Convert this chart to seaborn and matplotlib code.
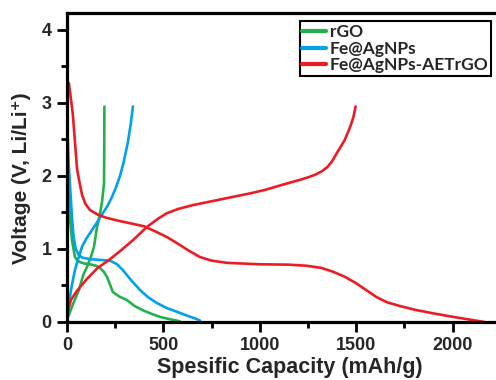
import numpy as np
import pandas as pd
import matplotlib
matplotlib.use("Agg")
import matplotlib.pyplot as plt
import seaborn as sns
from matplotlib.ticker import MultipleLocator
from matplotlib.lines import Line2D

series_names = ["rGO", "Fe@AgNPs", "Fe@AgNPs-AETrGO"]
series_colors = ["#22B14C", "#00A2E8", "#ED1C24"]

# rGO
rgo_dis_cap = [0, 5, 10, 16, 26, 41, 55, 67, 90, 120, 150, 171, 190, 207, 222, 238, 270, 311, 350, 394, 440, 482, 530, 585]
rgo_dis_v = [2.9, 2.1, 1.65, 1.40, 1.12, 0.89, 0.84, 0.82, 0.80, 0.79, 0.77, 0.74, 0.69, 0.62, 0.52, 0.41, 0.35, 0.30, 0.22, 0.16, 0.11, 0.07, 0.04, 0.01]
rgo_chg_cap = [0, 10, 35, 62, 85, 103, 125, 140, 155, 170, 181, 192, 193, 194]
rgo_chg_v = [0.05, 0.10, 0.27, 0.44, 0.65, 0.75, 0.90, 1.03, 1.29, 1.47, 1.63, 1.90, 2.3, 2.95]

# Fe@AgNPs
fe_dis_cap = [0, 3, 8, 15, 22, 28, 35, 45, 60, 80, 120, 170, 223, 260, 290, 330, 378, 420, 466, 518, 570, 620, 673, 690]
fe_dis_v = [3.0, 2.6, 2.2, 1.9, 1.6, 1.35, 1.15, 1.0, 0.92, 0.88, 0.86, 0.85, 0.84, 0.79, 0.71, 0.58, 0.44, 0.34, 0.26, 0.19, 0.14, 0.09, 0.04, 0.02]
fe_chg_cap = [0, 10, 25, 41, 60, 78, 100, 130, 155, 181, 208, 233, 255, 275, 295, 315, 330, 342]
fe_chg_v = [0.08, 0.26, 0.5, 0.71, 0.88, 1.03, 1.14, 1.26, 1.36, 1.47, 1.58, 1.71, 1.85, 2.0, 2.2, 2.45, 2.7, 2.95]

# Fe@AgNPs-AETrGO
aet_dis_cap = [10, 30, 52, 62, 78, 95, 120, 160, 200, 260, 330, 400, 466, 520, 570, 630, 689, 750, 829, 1000, 1150, 1243, 1320, 1378, 1440, 1500, 1550, 1606, 1660, 1725, 1800, 1896, 1980, 2072, 2165]
aet_dis_v = [3.27, 2.85, 2.1, 1.95, 1.74, 1.62, 1.53, 1.47, 1.43, 1.39, 1.35, 1.31, 1.23, 1.16, 1.08, 0.98, 0.89, 0.84, 0.81, 0.79, 0.785, 0.77, 0.74, 0.69, 0.62, 0.53, 0.44, 0.34, 0.27, 0.22, 0.17, 0.12, 0.08, 0.04, 0.0]
aet_chg_cap = [3, 10, 20, 50, 100, 155, 181, 223, 275, 342, 414, 470, 518, 580, 653, 800, 948, 1030, 1119, 1200, 1250, 1290, 1320, 1350, 1375, 1399, 1420, 1440, 1456, 1470, 1485, 1497]
aet_chg_v = [0.10, 0.20, 0.30, 0.42, 0.58, 0.73, 0.78, 0.86, 0.97, 1.12, 1.30, 1.41, 1.49, 1.55, 1.60, 1.68, 1.76, 1.81, 1.88, 1.94, 1.98, 2.02, 2.06, 2.12, 2.20, 2.31, 2.40, 2.49, 2.59, 2.68, 2.80, 2.95]

x_ticks = [0, 500, 1000, 1500, 2000]
y_ticks = [0, 1, 2, 3, 4]

frames = []
for name, segs in [
    ("rGO", [("d", rgo_dis_cap, rgo_dis_v), ("c", rgo_chg_cap, rgo_chg_v)]),
    ("Fe@AgNPs", [("d", fe_dis_cap, fe_dis_v), ("c", fe_chg_cap, fe_chg_v)]),
    ("Fe@AgNPs-AETrGO", [("d", aet_dis_cap, aet_dis_v), ("c", aet_chg_cap, aet_chg_v)]),
]:
    for seg, cap, v in segs:
        frames.append(pd.DataFrame({"cap": cap, "v": v, "material": name, "seg": name + seg}))
df = pd.concat(frames, ignore_index=True)

sns.set_style("ticks")
plt.rcParams["font.family"] = ["Liberation Sans", "DejaVu Sans"]
plt.rcParams["font.weight"] = "bold"
plt.rcParams["lines.solid_joinstyle"] = "round"

fig = plt.figure(figsize=(4.96, 3.80), dpi=100)
ax = fig.add_axes([67 / 496, 1 - 322 / 380, 1 - 67 / 496, (322 - 13) / 380])

sns.lineplot(data=df, x="cap", y="v", hue="material", units="seg", estimator=None, sort=False,
             palette=dict(zip(series_names, series_colors)), hue_order=series_names,
             linewidth=1.9, ax=ax, legend=False)

ax.set_xlim(0, 2225)
ax.set_ylim(0, 4.23)
ax.set_xticks(x_ticks)
ax.set_yticks(y_ticks)
ax.xaxis.set_minor_locator(MultipleLocator(250))
ax.yaxis.set_minor_locator(MultipleLocator(0.5))
ax.tick_params(which="major", direction="out", length=7, width=2, labelsize=13, pad=4, color="black")
ax.tick_params(which="minor", direction="out", length=4, width=2, color="black")
for lab in ax.get_xticklabels() + ax.get_yticklabels():
    lab.set_fontweight("bold")
for s in ["left", "bottom", "top"]:
    ax.spines[s].set_linewidth(2.3)
    ax.spines[s].set_color("black")
ax.spines["right"].set_visible(False)

ax.set_xlabel("Spesific Capacity (mAh/g)", fontsize=15.5, fontweight="bold")
ax.set_ylabel("Voltage (V, Li/Li\u207a)", fontsize=15, fontweight="bold")
ax.xaxis.set_label_coords(0.52, -0.112)
ax.yaxis.set_label_coords(-0.085, 0.466)

handles = [Line2D([0], [0], color=c, lw=3) for c in series_colors]
leg = ax.legend(handles, series_names, loc="upper right", bbox_to_anchor=(0.997, 0.985),
                frameon=True, fancybox=False, handlelength=1.4, handletextpad=0.2,
                borderpad=0.15, labelspacing=0.05, borderaxespad=0.2,
                prop={"family": ["Lato", "DejaVu Sans"], "weight": "bold", "size": 12.5})
leg.get_frame().set_edgecolor("black")
leg.get_frame().set_linewidth(1.5)
leg.get_frame().set_alpha(1)

fig.savefig("out.png", dpi=100)
